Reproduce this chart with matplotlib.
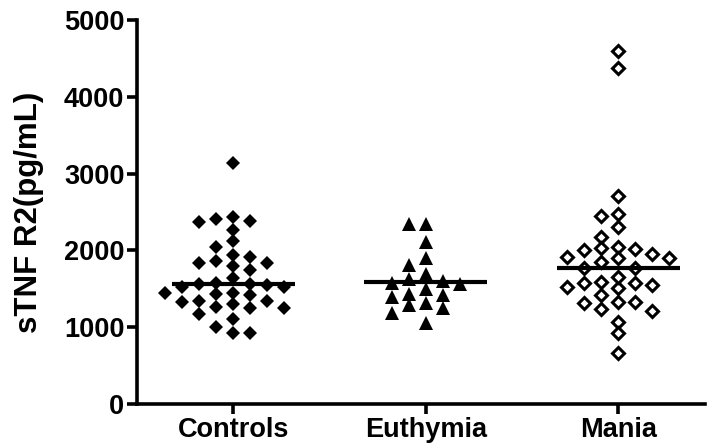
import matplotlib
matplotlib.use('Agg')
import matplotlib.pyplot as plt
import numpy as np

# values (pg/mL)
groups = ['Controls', 'Euthymia', 'Mania']

controls = [3140, 2435, 2385, 2370, 2410, 2265, 2045, 2120, 1915, 1835,
            1795, 1745, 1835, 1860, 1940, 1640, 1550, 1525, 1560, 1560,
            1575, 1525, 1445, 1420, 1430, 1445, 1340, 1330, 1250, 1250,
            1265, 1300, 1340, 1170, 1105, 1005, 925, 925]

euthymia = [2345, 2345, 2110, 1900, 1810, 1695, 1600, 1565, 1575, 1630,
            1430, 1395, 1420, 1500, 1315, 1250, 1290, 1185, 1055]

mania = [4600, 4375, 2710, 2475, 2450, 2305, 2175, 1955, 2045, 1900,
         2020, 1850, 2005, 2030, 1900, 1915, 1770, 1770, 1590, 1575,
         1525, 1510, 1550, 1575, 1655, 1330, 1315, 1210, 1235, 1330,
         1420, 1065, 925, 660]

# horizontal centre lines
centre_lines = [1560, 1590, 1770]

y_ticks = [0, 1000, 2000, 3000, 4000, 5000]

plt.rcParams['font.family'] = ['Liberation Sans', 'DejaVu Sans']
plt.rcParams['font.weight'] = 'bold'

W, H = 707, 448
fig = plt.figure(figsize=(W / 100, H / 100), dpi=100)
ax = fig.add_axes([137 / W, 44 / H, 568 / W, 384 / H])
ax.set_xlim(-0.5, 2.45)
ax.set_ylim(0, 5000)


def swarm_offsets(values, step_px=8.5, w=16, h=10):
    # simple beeswarm in pixel space, returns offsets in data units
    values = np.asarray(values, dtype=float)
    n = len(values)
    y_px = ax.transData.transform(np.c_[np.zeros(n), values])[:, 1]
    x_unit = ax.transData.transform([(1, 0)])[0, 0] - ax.transData.transform([(0, 0)])[0, 0]
    cands = [0]
    for k in range(1, 20):
        cands += [-k, k]
    placed = []
    offs = np.zeros(n)
    for i in np.argsort(-values):
        for k in cands:
            x = k * step_px
            ok = True
            for px, py in placed:
                if abs(x - px) < w and abs(y_px[i] - py) < h:
                    ok = False
                    break
            if ok:
                break
        placed.append((x, y_px[i]))
        offs[i] = x / x_unit
    return offs


styles = [
    dict(marker='D', markersize=6.8, color='black', markeredgewidth=0),
    dict(marker='^', markersize=9.5, color='black', markeredgewidth=0),
    dict(marker='D', markersize=6.2, markerfacecolor='white',
         markeredgecolor='black', markeredgewidth=2.2),
]

for i, vals in enumerate([controls, euthymia, mania]):
    offs = swarm_offsets(vals)
    ax.plot(i + offs, vals, linestyle='none', clip_on=False, zorder=3, **styles[i])
    ax.plot([i - 0.32, i + 0.32], [centre_lines[i]] * 2, color='black', lw=3, zorder=4,
            solid_capstyle='butt')

for s in ['top', 'right']:
    ax.spines[s].set_visible(False)
for s in ['left', 'bottom']:
    ax.spines[s].set_linewidth(2.6)

ax.set_yticks(y_ticks)
ax.set_xticks(range(len(groups)))
ax.set_xticklabels(groups)
ax.tick_params(axis='both', width=2.6, length=7, labelsize=19.5)
ax.tick_params(axis='y', pad=2)
ax.tick_params(axis='x', pad=2)
ax.set_ylabel('sTNF R2(pg/mL)', fontsize=22.5, fontweight='bold')
ax.yaxis.set_label_coords(-0.163, 0.5)

fig.savefig('out.png', dpi=100)
